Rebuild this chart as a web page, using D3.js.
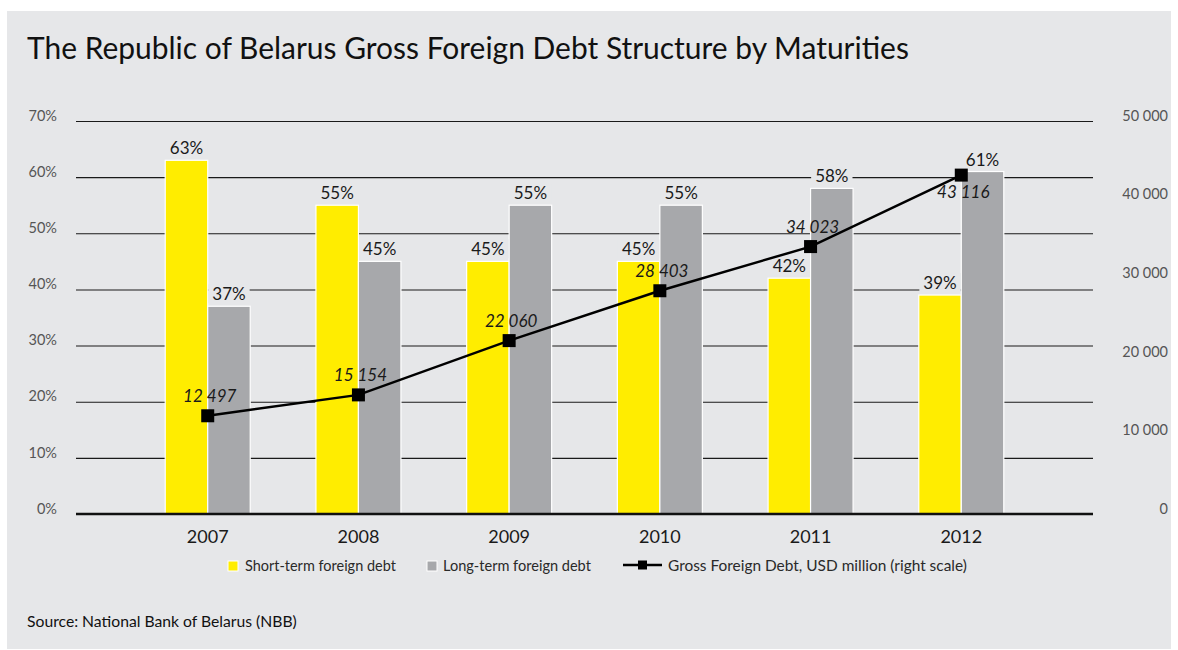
<!DOCTYPE html>
<html>
<head>
<meta charset="utf-8">
<script src="https://cdn.jsdelivr.net/npm/d3@7/dist/d3.min.js"></script>
<style>
  html, body { margin: 0; padding: 0; background: #ffffff; }
  svg { display: block; }
  text { font-family: Lato, "Open Sans", sans-serif; }
</style>
</head>
<body>
<svg id="chart" width="1178" height="650"></svg>
<script>
// Belarus gross foreign debt: maturity split (%) and total (USD million)
const years = ["2007", "2008", "2009", "2010", "2011", "2012"];
const shortTerm = [63, 55, 45, 45, 42, 39];
const longTerm = [37, 45, 55, 55, 58, 61];
const grossDebt = [12497, 15154, 22060, 28403, 34023, 43116];
const leftTicks = [0, 10, 20, 30, 40, 50, 60, 70];
const rightTicks = [0, 10000, 20000, 30000, 40000, 50000];
const seriesKeys = ["short", "long"];
const seriesNames = ["Short-term foreign debt", "Long-term foreign debt"];
const lineName = "Gross Foreign Debt, USD million (right scale)";
const titleText = "The Republic of Belarus Gross Foreign Debt Structure by Maturities";
const sourceText = "Source: National Bank of Belarus (NBB)";

const COLORS = { short: "#ffed00", long: "#a7a8ab", bg: "#e6e7e9", ink: "#111111", tick: "#555555" };

const svg = d3.select("#chart");
const W = 1178, H = 650;
const plot = { left: 76, right: 1093, top: 121, bottom: 514 };

const spaceFmt = d3.formatLocale({ decimal: ".", thousands: " ", grouping: [3], currency: ["", ""] }).format(",d");

// resize a text element so it spans the given width
function fitWidth(sel, target) {
  sel.each(function () {
    const fs = parseFloat(this.getAttribute("font-size"));
    const w = this.getComputedTextLength();
    if (w > 0) this.setAttribute("font-size", (fs * target / w).toFixed(2));
  });
  return sel;
}

// panel
svg.append("rect").attr("x", 7).attr("y", 11).attr("width", W - 14).attr("height", H - 12)
  .attr("fill", COLORS.bg);

// title
fitWidth(svg.append("text").attr("x", 27).attr("y", 59).attr("font-size", 31)
  .attr("fill", COLORS.ink).text(titleText), 882);

// scales
const x0 = d3.scaleBand().domain(years).range([plot.left, plot.right])
  .paddingInner(0.436).paddingOuter(0.592);
const x1 = d3.scaleBand().domain(seriesKeys).range([0, x0.bandwidth()]);
const yL = d3.scaleLinear().domain([0, 70]).range([plot.bottom, plot.top]);
const yR = d3.scaleLinear().domain([0, 50000]).range([plot.bottom, plot.top]);

// gridlines + left axis
const gLeft = svg.append("g").attr("transform", `translate(${plot.left},0)`)
  .call(d3.axisLeft(yL).tickValues(leftTicks).tickFormat(d => d + "%")
    .tickSize(-(plot.right - plot.left)).tickPadding(19));
gLeft.select(".domain").remove();
gLeft.selectAll(".tick line").attr("stroke", "#1a1a1a").attr("stroke-width", 1.1);
gLeft.selectAll(".tick text").attr("font-size", 14.5).attr("fill", COLORS.tick)
  .attr("font-family", "Lato, sans-serif").attr("dy", "-0.05em");

// right axis (labels only)
const gRight = svg.append("g").attr("transform", `translate(${plot.right},0)`)
  .call(d3.axisRight(yR).tickValues(rightTicks).tickFormat(spaceFmt).tickSize(0).tickPadding(0));
gRight.select(".domain").remove();
gRight.selectAll(".tick text").attr("font-size", 14.5).attr("fill", COLORS.tick)
  .attr("font-family", "Lato, sans-serif").attr("text-anchor", "end")
  .attr("x", 1168 - plot.right).attr("dy", "-0.05em");

// bars
const rows = years.map((y, i) => ({ year: y, short: shortTerm[i], long: longTerm[i] }));
const groups = svg.append("g").selectAll("g").data(rows).join("g")
  .attr("transform", d => `translate(${x0(d.year)},0)`);

groups.selectAll("rect").data(d => seriesKeys.map(k => ({ key: k, value: d[k] }))).join("rect")
  .attr("x", d => x1(d.key)).attr("width", x1.bandwidth())
  .attr("y", d => yL(d.value)).attr("height", d => yL(0) - yL(d.value))
  .attr("fill", d => COLORS[d.key]).attr("stroke", "#ffffff").attr("stroke-width", 1.2);

// bar value labels with a knock-out background
const barLabels = groups.selectAll("g.lbl").data(d => seriesKeys.map(k => ({ key: k, value: d[k] })))
  .join("g").attr("class", "lbl");
barLabels.append("rect").attr("class", "knock");
barLabels.append("text")
  .attr("x", d => x1(d.key) + x1.bandwidth() / 2).attr("y", d => yL(d.value) - 6)
  .attr("text-anchor", "middle").attr("font-size", 17).attr("fill", "#1a1a1a")
  .text(d => d.value + "%");
barLabels.each(function () {
  const t = d3.select(this).select("text").node().getBBox();
  d3.select(this).select("rect.knock").attr("x", t.x - 4).attr("y", t.y + 1)
    .attr("width", t.width + 8).attr("height", t.height - 2).attr("fill", COLORS.bg);
});
barLabels.raise();

// x axis baseline and year labels
const gX = svg.append("g").attr("transform", `translate(0,${plot.bottom})`)
  .call(d3.axisBottom(x0).tickSize(0).tickPadding(16));
gX.select(".domain").attr("stroke", "#111").attr("stroke-width", 2.4)
  .attr("d", `M${plot.left},0H${plot.right}`);
gX.selectAll(".tick text").attr("font-size", 18).attr("fill", "#1a1a1a")
  .attr("font-family", "Lato, sans-serif");

// debt line (right scale)
const cx = (d, i) => x0(years[i]) + x0.bandwidth() / 2;
const line = d3.line().x((d, i) => cx(d, i)).y(d => yR(d));
svg.append("path").datum(grossDebt).attr("d", line)
  .attr("fill", "none").attr("stroke", "#000").attr("stroke-width", 2.5);
const mk = 13;
svg.append("g").selectAll("rect").data(grossDebt).join("rect")
  .attr("x", (d, i) => cx(d, i) - mk / 2).attr("y", d => yR(d) - mk / 2)
  .attr("width", mk).attr("height", mk).attr("fill", "#000");
svg.append("g").selectAll("text").data(grossDebt).join("text")
  .attr("x", (d, i) => cx(d, i) + 2)
  .attr("y", (d, i) => i === grossDebt.length - 1 ? yR(d) + 23 : yR(d) - 14)
  .attr("text-anchor", "middle").attr("font-size", 17).attr("font-style", "italic")
  .attr("fill", "#1a1a1a").text(d => spaceFmt(d));

// legend
const lg = svg.append("g");
const legendY = 566;
[[228, 245, 151], [427, 443, 148]].forEach(([sx, tx, tw], i) => {
  lg.append("rect").attr("x", sx).attr("y", legendY - 5).attr("width", 10).attr("height", 10)
    .attr("fill", COLORS[seriesKeys[i]]).attr("stroke", "#ffffff").attr("stroke-width", 1);
  fitWidth(lg.append("text").attr("x", tx).attr("y", legendY + 4.5).attr("font-size", 14.5)
    .attr("fill", "#2a2a2a").text(seriesNames[i]), tw);
});
lg.append("line").attr("x1", 623).attr("x2", 662).attr("y1", legendY - 1).attr("y2", legendY - 1)
  .attr("stroke", "#000").attr("stroke-width", 2.5);
lg.append("rect").attr("x", 638).attr("y", legendY - 5.5).attr("width", 9).attr("height", 9).attr("fill", "#000");
fitWidth(lg.append("text").attr("x", 668).attr("y", legendY + 4.5).attr("font-size", 14.5)
  .attr("fill", "#2a2a2a").text(lineName), 299);

// source
fitWidth(svg.append("text").attr("x", 27).attr("y", 627).attr("font-size", 14.5)
  .attr("fill", COLORS.ink).text(sourceText), 270);
</script>
</body>
</html>
